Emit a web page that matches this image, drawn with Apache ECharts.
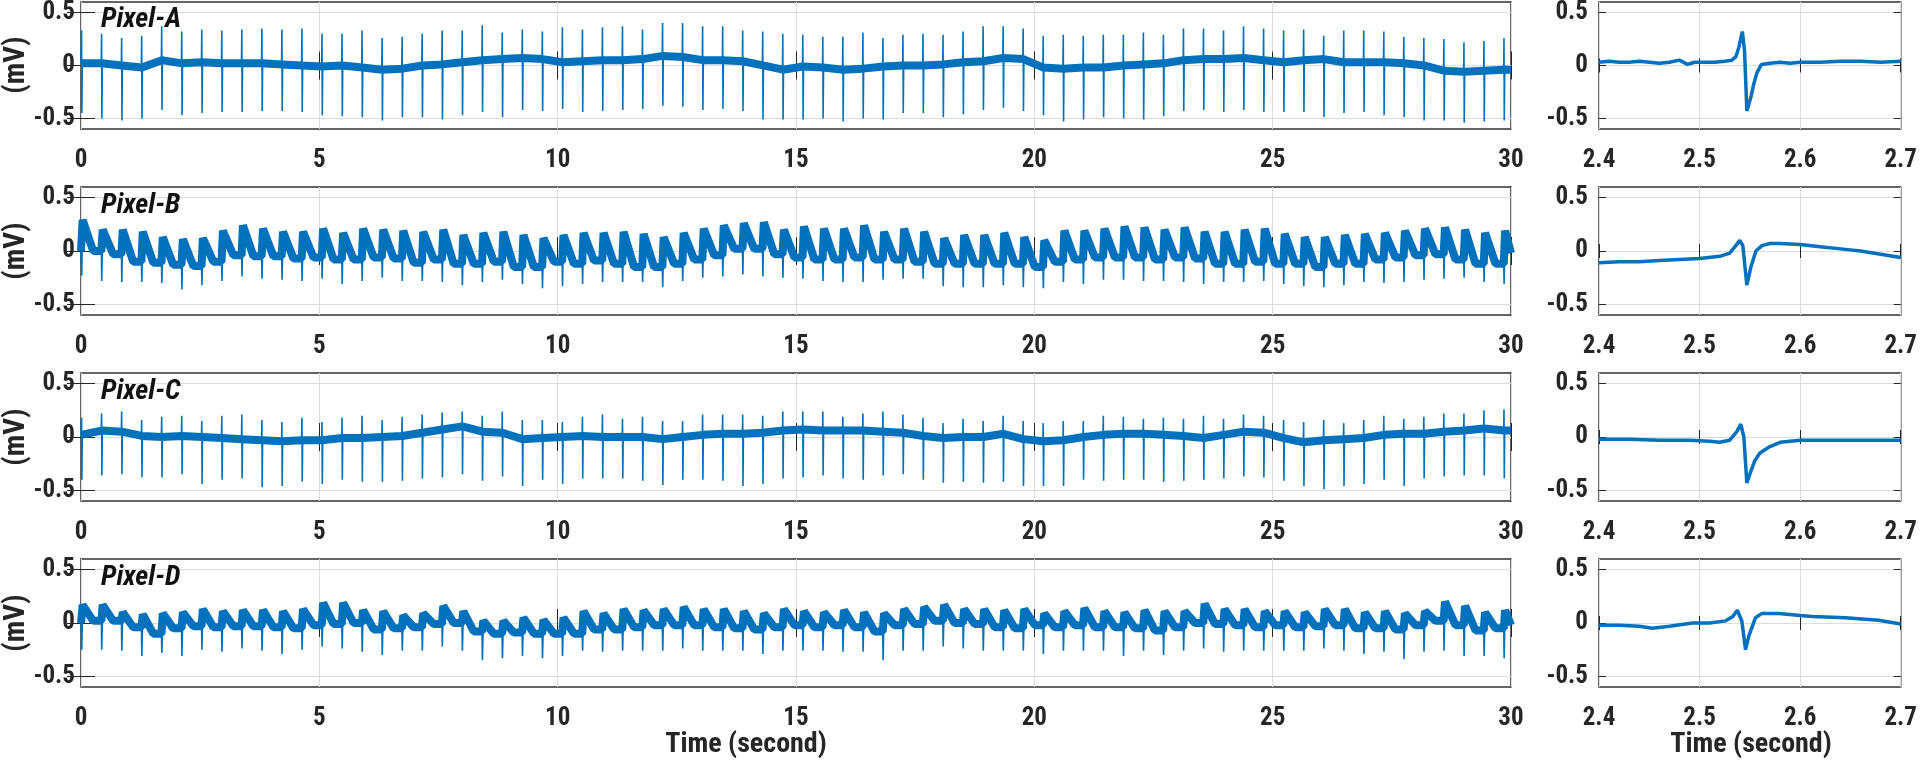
<!DOCTYPE html>
<html><head><meta charset="utf-8">
<script src="https://cdn.jsdelivr.net/npm/echarts@6/dist/echarts.min.js"></script>
<style>html,body{margin:0;padding:0;background:#fff}#c{width:1920px;height:765px}</style>
</head><body><div id="c"></div>
<script>
// ---- data ----
const beatTimes = [0.015,0.435,0.856,1.276,1.696,2.117,2.537,2.957,3.377,3.798,4.218,4.638,
 5.059,5.479,5.899,6.320,6.740,7.160,7.580,8.001,8.421,8.841,9.262,9.682,
 10.102,10.523,10.943,11.363,11.783,12.204,12.624,13.044,13.465,13.885,14.305,14.726,
 15.146,15.566,15.986,16.407,16.827,17.247,17.668,18.088,18.508,18.929,19.349,19.769,
 20.189,20.610,21.030,21.450,21.871,22.291,22.711,23.132,23.552,23.972,24.392,24.813,
 25.233,25.653,26.074,26.494,26.914,27.335,27.755,28.175,28.595,29.016,29.436,29.856];

// Pixel-A : spike top, spike bottom, baseline level at each beat
const aHi = [0.33,0.30,0.26,0.28,0.37,0.32,0.34,0.33,0.34,0.35,0.34,0.35,
 0.30,0.30,0.33,0.26,0.27,0.30,0.33,0.33,0.38,0.31,0.34,0.32,
 0.36,0.34,0.36,0.37,0.34,0.40,0.40,0.37,0.37,0.33,0.32,0.30,
 0.29,0.27,0.27,0.31,0.26,0.29,0.30,0.29,0.32,0.37,0.37,0.35,
 0.28,0.29,0.28,0.29,0.29,0.31,0.29,0.35,0.35,0.33,0.37,0.35,
 0.33,0.34,0.28,0.33,0.33,0.32,0.27,0.26,0.25,0.22,0.23,0.26];
const aLo = [-0.45,-0.50,-0.52,-0.50,-0.42,-0.47,-0.45,-0.44,-0.44,-0.43,-0.43,-0.44,
 -0.47,-0.48,-0.49,-0.52,-0.49,-0.49,-0.51,-0.47,-0.44,-0.49,-0.42,-0.43,
 -0.41,-0.44,-0.43,-0.42,-0.41,-0.38,-0.39,-0.42,-0.41,-0.43,-0.51,-0.51,
 -0.51,-0.50,-0.53,-0.50,-0.51,-0.45,-0.45,-0.49,-0.46,-0.42,-0.40,-0.43,
 -0.47,-0.53,-0.51,-0.49,-0.50,-0.51,-0.48,-0.43,-0.42,-0.44,-0.42,-0.44,
 -0.44,-0.44,-0.49,-0.45,-0.44,-0.47,-0.49,-0.52,-0.52,-0.54,-0.53,-0.52];
const aBase = [0.02,0.02,0.00,-0.02,0.05,0.02,0.03,0.02,0.02,0.02,0.01,0.00,
 -0.01,0.00,-0.02,-0.04,-0.03,0.00,0.01,0.03,0.05,0.06,0.07,0.06,
 0.03,0.04,0.05,0.05,0.06,0.09,0.08,0.05,0.05,0.04,0.00,-0.04,
 -0.01,-0.02,-0.04,-0.03,-0.01,0.00,0.00,0.01,0.03,0.04,0.07,0.06,
 -0.02,-0.03,-0.02,-0.02,0.00,0.01,0.02,0.05,0.06,0.06,0.07,0.05,
 0.03,0.05,0.06,0.03,0.03,0.03,0.02,0.00,-0.05,-0.06,-0.05,-0.04];

// Pixel-B : level before each beat, spike bottom, hump peak after beat
const bPre = [0.00,0.00,-0.03,-0.10,-0.11,-0.13,-0.14,-0.10,-0.04,-0.05,-0.05,-0.07,
 -0.06,-0.08,-0.08,-0.06,-0.07,-0.11,-0.08,-0.12,-0.12,-0.10,-0.15,-0.15,
 -0.10,-0.12,-0.09,-0.12,-0.15,-0.15,-0.12,-0.08,-0.04,0.02,0.02,-0.03,
 -0.06,-0.08,-0.08,-0.06,-0.08,-0.08,-0.10,-0.12,-0.12,-0.12,-0.12,-0.12,
 -0.15,-0.10,-0.08,-0.06,-0.06,-0.06,-0.08,-0.06,-0.07,-0.12,-0.12,-0.10,
 -0.12,-0.12,-0.15,-0.12,-0.12,-0.08,-0.06,-0.04,-0.03,-0.08,-0.12,-0.12];
const bLo = [-0.23,-0.28,-0.29,-0.29,-0.30,-0.36,-0.32,-0.28,-0.24,-0.26,-0.27,-0.28,
 -0.26,-0.31,-0.28,-0.25,-0.28,-0.28,-0.29,-0.32,-0.29,-0.27,-0.31,-0.35,
 -0.33,-0.31,-0.29,-0.29,-0.29,-0.34,-0.28,-0.25,-0.24,-0.22,-0.24,-0.25,
 -0.26,-0.28,-0.29,-0.29,-0.27,-0.26,-0.26,-0.33,-0.34,-0.34,-0.32,-0.34,
 -0.35,-0.29,-0.31,-0.27,-0.27,-0.28,-0.28,-0.29,-0.31,-0.29,-0.29,-0.28,
 -0.31,-0.33,-0.34,-0.32,-0.29,-0.30,-0.29,-0.27,-0.26,-0.25,-0.29,-0.31];
const bPeak = [0.29,0.20,0.20,0.18,0.13,0.11,0.12,0.19,0.24,0.21,0.18,0.18,
 0.21,0.17,0.21,0.20,0.19,0.18,0.20,0.15,0.17,0.18,0.15,0.12,
 0.15,0.17,0.17,0.18,0.16,0.13,0.17,0.21,0.24,0.26,0.27,0.20,
 0.23,0.21,0.21,0.24,0.18,0.21,0.18,0.12,0.15,0.15,0.17,0.13,
 0.10,0.19,0.19,0.21,0.23,0.22,0.20,0.22,0.18,0.18,0.20,0.21,
 0.16,0.13,0.13,0.15,0.16,0.17,0.19,0.21,0.22,0.20,0.17,0.19];
const bEnd = -0.02;

// Pixel-C : spike top, spike bottom, baseline level at each beat
const cHi = [0.18,0.22,0.24,0.16,0.19,0.20,0.15,0.20,0.21,0.16,0.14,0.18,
 0.14,0.18,0.20,0.16,0.19,0.21,0.23,0.24,0.20,0.24,0.16,0.16,
 0.14,0.19,0.21,0.17,0.19,0.15,0.15,0.21,0.21,0.21,0.20,0.24,
 0.24,0.24,0.19,0.22,0.24,0.21,0.18,0.13,0.17,0.15,0.20,0.15,
 0.13,0.15,0.15,0.20,0.19,0.17,0.18,0.17,0.20,0.17,0.21,0.20,
 0.16,0.14,0.16,0.13,0.16,0.20,0.17,0.19,0.22,0.22,0.25,0.26];
const cLo = [-0.40,-0.36,-0.35,-0.38,-0.38,-0.35,-0.44,-0.40,-0.39,-0.47,-0.46,-0.42,
 -0.44,-0.40,-0.42,-0.42,-0.41,-0.39,-0.38,-0.35,-0.41,-0.37,-0.46,-0.40,
 -0.44,-0.39,-0.39,-0.39,-0.41,-0.45,-0.40,-0.40,-0.41,-0.46,-0.44,-0.39,
 -0.38,-0.36,-0.39,-0.40,-0.36,-0.35,-0.40,-0.43,-0.42,-0.43,-0.42,-0.46,
 -0.46,-0.46,-0.40,-0.41,-0.40,-0.40,-0.42,-0.41,-0.40,-0.39,-0.37,-0.38,
 -0.41,-0.46,-0.49,-0.46,-0.44,-0.40,-0.46,-0.39,-0.37,-0.36,-0.36,-0.39];
const cBase = [0.02,0.06,0.05,0.01,0.00,0.01,0.00,-0.01,-0.02,-0.03,-0.04,-0.03,
 -0.03,-0.01,-0.01,0.00,0.01,0.04,0.07,0.10,0.05,0.04,-0.02,-0.01,
 0.00,0.01,0.00,0.00,0.00,-0.02,0.00,0.02,0.03,0.03,0.04,0.06,
 0.07,0.06,0.06,0.06,0.05,0.04,0.01,-0.01,0.00,0.00,0.03,-0.02,
 -0.04,-0.03,0.00,0.02,0.03,0.03,0.02,0.01,-0.01,0.02,0.05,0.04,
 -0.01,-0.05,-0.03,-0.02,-0.01,0.02,0.03,0.03,0.05,0.06,0.08,0.06];

// Pixel-D : level before each beat, spike bottom, hump peak after beat
const dPre = [0.00,0.02,0.02,-0.04,-0.10,-0.05,-0.03,-0.04,-0.03,-0.03,-0.04,-0.05,
 -0.02,-0.01,0.00,-0.06,-0.05,-0.04,-0.01,0.00,-0.08,-0.10,-0.09,-0.10,
 -0.10,-0.10,-0.06,-0.06,-0.04,-0.02,-0.02,-0.02,-0.04,-0.05,-0.06,-0.04,
 -0.02,-0.04,-0.02,-0.04,-0.08,-0.02,-0.01,0.02,0.00,-0.01,-0.04,-0.05,
 -0.02,-0.04,-0.02,-0.04,-0.04,-0.05,-0.07,-0.04,0.00,-0.01,-0.02,-0.04,
 -0.02,-0.04,-0.03,-0.02,-0.05,-0.05,-0.06,-0.02,0.02,-0.02,-0.07,-0.05];
const dLo = [-0.25,-0.25,-0.26,-0.31,-0.28,-0.31,-0.25,-0.27,-0.24,-0.26,-0.29,-0.25,
 -0.22,-0.24,-0.27,-0.30,-0.26,-0.26,-0.22,-0.26,-0.35,-0.33,-0.31,-0.33,
 -0.31,-0.26,-0.27,-0.26,-0.26,-0.26,-0.24,-0.26,-0.26,-0.26,-0.29,-0.26,
 -0.26,-0.26,-0.27,-0.27,-0.35,-0.26,-0.26,-0.22,-0.24,-0.26,-0.26,-0.26,
 -0.29,-0.26,-0.26,-0.26,-0.31,-0.26,-0.30,-0.26,-0.24,-0.27,-0.26,-0.26,
 -0.26,-0.26,-0.24,-0.26,-0.29,-0.27,-0.34,-0.27,-0.26,-0.31,-0.31,-0.33];
const dPeak = [0.17,0.17,0.10,0.08,0.09,0.10,0.13,0.11,0.12,0.12,0.11,0.13,
 0.19,0.19,0.12,0.11,0.07,0.09,0.16,0.11,0.02,0.02,0.05,0.03,
 0.05,0.11,0.09,0.13,0.12,0.13,0.15,0.13,0.13,0.11,0.09,0.13,
 0.11,0.10,0.12,0.10,0.09,0.13,0.15,0.17,0.13,0.13,0.12,0.13,
 0.09,0.11,0.14,0.11,0.10,0.12,0.11,0.11,0.18,0.13,0.13,0.11,
 0.11,0.10,0.13,0.13,0.10,0.11,0.09,0.11,0.20,0.16,0.10,0.12];
const dEnd = -0.02;

// zoomed single beats, 2.4 - 2.7 s  [time, mV]
const zoomA = [[2.400,0.03],[2.410,0.04],[2.420,0.03],[2.430,0.03],[2.440,0.04],[2.450,0.03],[2.460,0.02],[2.470,0.03],[2.480,0.05],[2.488,0.01],[2.495,0.03],[2.505,0.03],[2.515,0.03],[2.525,0.04],[2.532,0.05],[2.536,0.08],[2.539,0.17],[2.5425,0.32],[2.5447,0.14],[2.547,-0.43],[2.551,-0.30],[2.554,-0.17],[2.557,-0.07],[2.5615,0.01],[2.570,0.02],[2.580,0.03],[2.590,0.02],[2.600,0.03],[2.620,0.03],[2.640,0.04],[2.660,0.04],[2.680,0.03],[2.700,0.04]];
const zoomB = [[2.40,-0.11],[2.42,-0.10],[2.44,-0.10],[2.46,-0.09],[2.48,-0.08],[2.50,-0.07],[2.52,-0.05],[2.53,-0.02],[2.536,0.05],[2.540,0.10],[2.543,0.05],[2.547,-0.32],[2.551,-0.15],[2.556,0.00],[2.562,0.05],[2.570,0.07],[2.58,0.07],[2.60,0.06],[2.62,0.04],[2.64,0.02],[2.66,0.00],[2.68,-0.03],[2.70,-0.06]];
const zoomC = [[2.40,-0.02],[2.43,-0.02],[2.46,-0.03],[2.49,-0.03],[2.51,-0.04],[2.52,-0.05],[2.53,-0.03],[2.537,0.05],[2.541,0.12],[2.544,0.00],[2.547,-0.43],[2.551,-0.32],[2.555,-0.22],[2.56,-0.15],[2.57,-0.09],[2.58,-0.05],[2.60,-0.03],[2.63,-0.03],[2.66,-0.03],[2.70,-0.03]];
const zoomD = [[2.40,-0.02],[2.42,-0.02],[2.44,-0.03],[2.453,-0.05],[2.47,-0.03],[2.493,0.00],[2.51,0.00],[2.526,0.02],[2.533,0.06],[2.5375,0.12],[2.542,0.02],[2.5457,-0.25],[2.549,-0.12],[2.5556,0.05],[2.562,0.09],[2.579,0.09],[2.60,0.07],[2.612,0.06],[2.645,0.05],[2.678,0.025],[2.70,-0.01]];

const panelNames = ['Pixel-A','Pixel-B','Pixel-C','Pixel-D'];
const yTicks = [-0.5, 0, 0.5];
const xLabel = 'Time (second)';
const yLabel = '(mV)';

// ---- build traces ----
function spikeTrace(hi, lo, base) {
  const line = [[0, base[0]]], band = [[0, base[0]]];
  for (let k = 0; k < beatTimes.length; k++) {
    const t = beatTimes[k];
    line.push([t - 0.01, base[k]], [t - 0.003, hi[k]], [t + 0.003, lo[k]], [t + 0.012, base[k]]);
    band.push([t, base[k]]);
  }
  line.push([30, base[base.length - 1]]); band.push([30, base[base.length - 1]]);
  return {line, band};
}
function sawTrace(pre, lo, peak, end) {
  const line = [[0, pre[0]]], band = [[0, pre[0]]];
  for (let k = 0; k < beatTimes.length; k++) {
    const t = beatTimes[k];
    const next = k + 1 < beatTimes.length ? pre[k + 1] : end;
    const tn = k + 1 < beatTimes.length ? beatTimes[k + 1] - 0.01 : 30;
    line.push([t - 0.008, pre[k]], [t, lo[k]], [t + 0.02, peak[k]], [Math.min(t + 0.24, tn), next]);
    band.push([t - 0.008, pre[k]], [t + 0.02, peak[k]], [Math.min(t + 0.24, tn), next]);
  }
  line.push([30, end]); band.push([30, end]);
  return {line, band};
}
const traces = [
  spikeTrace(aHi, aLo, aBase),
  sawTrace(bPre, bLo, bPeak, bEnd),
  spikeTrace(cHi, cLo, cBase),
  sawTrace(dPre, dLo, dPeak, dEnd)
];
const zooms = [zoomA, zoomB, zoomC, zoomD];

// ---- layout / style ----
const FONT = "'Roboto Condensed','Liberation Sans',Arial,sans-serif";
const INK = '#262626', BLUE = '#0072BD', GRIDC = '#dcdcdc';
const rowTops = [1, 187, 373, 559], rowH = 128;
const labelStyle = {fontFamily: FONT, fontWeight: 'bold', fontSize: 25, color: INK};

const grid = [], xAxis = [], yAxis = [], series = [], graphic = [];
rowTops.forEach((top, r) => {
  grid.push({left: 81, top, width: 1430, height: rowH, show: true, borderColor: '#333', borderWidth: 1.5, backgroundColor: '#fff'});
  grid.push({left: 1599, top, width: 304, height: rowH, show: true, borderColor: '#333', borderWidth: 1.5, backgroundColor: '#fff'});
  [[2 * r, 0, 30, 5, 14, v => String(Math.round(v))], [2 * r + 1, 2.4, 2.7, 0.1, 7, v => v.toFixed(1)]].forEach(([g, mn, mx, iv, tl, fmt]) => {
    xAxis.push({type: 'value', gridIndex: g, min: mn, max: mx, interval: iv, position: 'bottom',
      axisLine: {show: false}, axisTick: {inside: true, length: tl, lineStyle: {color: INK}},
      axisLabel: Object.assign({margin: 19, formatter: fmt}, labelStyle),
      splitLine: {show: true, lineStyle: {color: GRIDC, width: 1}}});
    xAxis.push({type: 'value', gridIndex: g, min: mn, max: mx, interval: iv, position: 'top',
      axisLine: {show: false}, axisTick: {inside: true, length: tl, lineStyle: {color: INK}},
      axisLabel: {show: false}, splitLine: {show: false}});
    yAxis.push({type: 'value', gridIndex: g, min: -0.6, max: 0.6, position: 'left',
      axisLine: {show: false},
      axisTick: {inside: true, length: tl, customValues: yTicks, lineStyle: {color: INK}},
      axisLabel: Object.assign({margin: g % 2 ? 11 : 6, customValues: yTicks, formatter: v => v === 0 ? '0' : String(v)}, labelStyle),
      splitLine: {show: true, lineStyle: {color: GRIDC, width: 1}}});
    yAxis.push({type: 'value', gridIndex: g, min: -0.6, max: 0.6, position: 'right',
      axisLine: {show: false},
      axisTick: {inside: true, length: tl, customValues: yTicks, lineStyle: {color: INK}},
      axisLabel: {show: false}, splitLine: {show: false}});
  });
  const base = 4 * r;
  series.push({type: 'line', xAxisIndex: base, yAxisIndex: base, data: traces[r].band, showSymbol: false, symbol: 'none',
    lineStyle: {color: BLUE, width: 8}, silent: true, animation: false, clip: true, z: 2});
  series.push({type: 'line', xAxisIndex: base, yAxisIndex: base, data: traces[r].line, showSymbol: false, symbol: 'none',
    lineStyle: {color: BLUE, width: 1.6}, silent: true, animation: false, clip: true, z: 3});
  series.push({type: 'line', xAxisIndex: base + 2, yAxisIndex: base + 2, data: zooms[r], showSymbol: false, symbol: 'none',
    lineStyle: {color: BLUE, width: 3.5}, silent: true, animation: false, clip: true, z: 3});
  graphic.push({type: 'text', left: 101, top: top + 5, z: 10,
    style: {text: panelNames[r], font: `italic bold 28px ${FONT}`, fill: '#111'}});
  graphic.push({type: 'text', x: 17, y: top + rowH / 2, rotation: Math.PI / 2, z: 10,
    style: {text: yLabel, font: `bold 29px ${FONT}`, fill: INK, align: 'center', verticalAlign: 'middle'}});
});
graphic.push({type: 'text', x: 746, y: 745, style: {text: xLabel, font: `bold 28px ${FONT}`, fill: INK, align: 'center', verticalAlign: 'middle'}});
graphic.push({type: 'text', x: 1751, y: 745, style: {text: xLabel, font: `bold 28px ${FONT}`, fill: INK, align: 'center', verticalAlign: 'middle'}});

const chart = echarts.init(document.getElementById('c'), null, {renderer: 'canvas'});
chart.setOption({animation: false, backgroundColor: '#fff', grid, xAxis, yAxis, series, graphic});
</script></body></html>
